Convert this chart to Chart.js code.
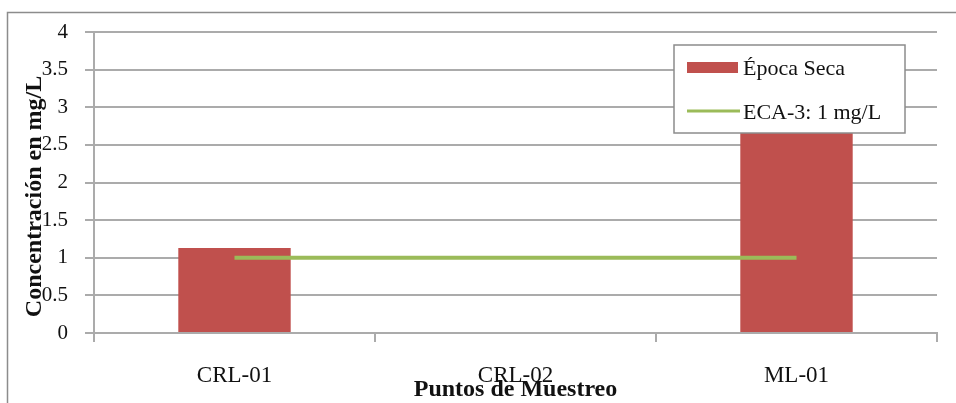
<!DOCTYPE html>
<html>
<head>
<meta charset="utf-8">
<script src="https://cdn.jsdelivr.net/npm/chart.js@4/dist/chart.umd.min.js"></script>
<style>
  html, body { margin: 0; padding: 0; background: #fff; }
  #wrap { width: 956px; height: 403px; position: relative; }
</style>
</head>
<body>
<div id="wrap"><canvas id="c" width="956" height="403"></canvas></div>
<script>
const categories = ['CRL-01', 'CRL-02', 'ML-01'];
const epocaSeca = [1.13, 0, 3.1];
const eca3 = [1, 1, 1];
const seriesNames = ['Época Seca', 'ECA-3: 1 mg/L'];
const yAxisTitle = 'Concentración en mg/L';
const xAxisTitle = 'Puntos de Muestreo';

const SERIF = "'Liberation Serif', 'Times New Roman', serif";
const GRID = '#ababab';

const frame = {
  id: 'frame',
  beforeDraw(chart) {
    const ctx = chart.ctx;
    ctx.save();
    ctx.fillStyle = '#fff';
    ctx.fillRect(0, 0, chart.width, chart.height);
    ctx.strokeStyle = '#8c8c8c';
    ctx.lineWidth = 1.5;
    ctx.strokeRect(7.5, 12.5, 1200, 1200);
    ctx.restore();
  },
  afterDraw(chart) {
    // y axis title, placed like the original (slightly below the plot centre)
    const ctx = chart.ctx;
    const ca = chart.chartArea;
    ctx.save();
    ctx.translate(35, (ca.top + ca.bottom) / 2 + 14);
    ctx.rotate(-Math.PI / 2);
    ctx.font = 'bold 24px ' + SERIF;
    ctx.fillStyle = '#111';
    ctx.textAlign = 'center';
    ctx.textBaseline = 'middle';
    ctx.fillText(yAxisTitle, 0, 0);
    ctx.restore();
  }
};

const boxLegend = {
  id: 'boxLegend',
  afterDatasetsDraw(chart) {
    const ctx = chart.ctx;
    const ca = chart.chartArea;
    const x = ca.right - 263, y = ca.top + 13, w = 231, h = 88;
    ctx.save();
    ctx.fillStyle = '#fff';
    ctx.fillRect(x, y, w, h);
    ctx.strokeStyle = '#8c8c8c';
    ctx.lineWidth = 1.5;
    ctx.strokeRect(x, y, w, h);
    ctx.font = '22px ' + SERIF;
    ctx.textBaseline = 'middle';
    const ds = chart.data.datasets;
    ctx.fillStyle = ds[0].backgroundColor;
    ctx.fillRect(x + 13, y + 17, 51, 11);
    ctx.fillStyle = '#111';
    ctx.fillText(ds[0].label, x + 69, y + 24);
    ctx.strokeStyle = ds[1].borderColor;
    ctx.lineWidth = 3;
    ctx.beginPath();
    ctx.moveTo(x + 13, y + 66);
    ctx.lineTo(x + 66, y + 66);
    ctx.stroke();
    ctx.fillText(ds[1].label, x + 69, y + 68);
    ctx.restore();
  }
};

new Chart(document.getElementById('c'), {
  type: 'bar',
  data: {
    labels: categories,
    datasets: [
      {
        type: 'bar',
        label: seriesNames[0],
        data: epocaSeca,
        backgroundColor: '#C0504D',
        borderWidth: 0,
        barPercentage: 0.4,
        categoryPercentage: 1,
        order: 1
      },
      {
        type: 'line',
        label: seriesNames[1],
        data: eca3,
        borderColor: '#9BBB59',
        backgroundColor: '#9BBB59',
        borderWidth: 4,
        pointRadius: 0,
        fill: false,
        order: 0
      }
    ]
  },
  options: {
    responsive: false,
    animation: false,
    layout: { padding: { top: 32, right: 19, left: 0, bottom: 0 } },
    plugins: {
      legend: { display: false },
      tooltip: { enabled: false }
    },
    scales: {
      x: {
        offset: true,
        grid: { offset: true, drawOnChartArea: false, drawTicks: true, tickLength: 9, color: GRID, lineWidth: 2 },
        border: { display: true, color: GRID, width: 2 },
        ticks: { font: { family: SERIF, size: 23 }, color: '#111', padding: 20, maxRotation: 0 },
        title: { display: true, text: xAxisTitle, font: { family: SERIF, size: 24, weight: 'bold', lineHeight: 1 }, color: '#111', padding: { top: 0, bottom: 1 } },
        afterFit(scale) { scale.height = 70; }
      },
      y: {
        min: 0,
        max: 4,
        ticks: { stepSize: 0.5, font: { family: SERIF, size: 21 }, color: '#111', padding: 17, callback: (v) => String(v) },
        grid: { color: GRID, lineWidth: 2, drawTicks: true, tickLength: 9 },
        border: { display: true, color: GRID, width: 2 },
        title: { display: false },
        afterFit(scale) { scale.width = 94; }
      }
    }
  },
  plugins: [frame, boxLegend]
});
</script>
</body>
</html>
